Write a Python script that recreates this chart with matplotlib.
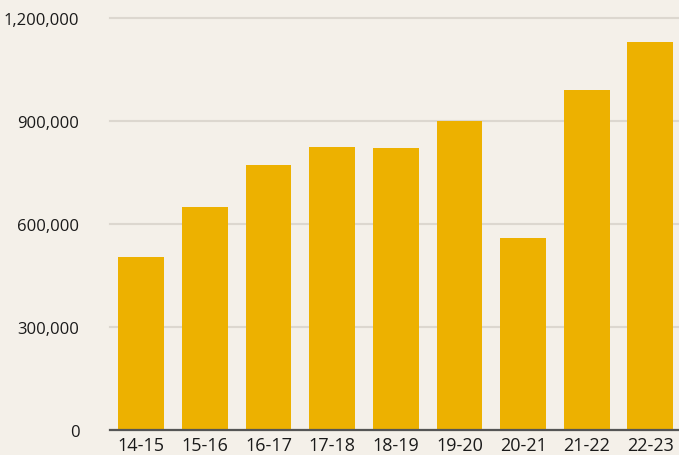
import matplotlib.pyplot as plt
from matplotlib.ticker import FuncFormatter

# ==== DATA ====
seasons = ['14-15', '15-16', '16-17', '17-18', '18-19', '19-20', '20-21', '21-22', '22-23']
values = [504000, 650000, 772000, 824000, 822000, 900000, 560000, 990000, 1130000]
y_ticks = [0, 300000, 600000, 900000, 1200000]

BG = '#f4f0e9'
BAR = '#edb100'
GRID = '#dcd7cf'

plt.rcParams['font.family'] = ['Open Sans', 'DejaVu Sans']

fig = plt.figure(figsize=(6.79, 4.56), dpi=100, facecolor=BG)
ax = fig.add_axes([110 / 679, 1 - 431 / 456, 1 - 110 / 679, (431 - 19) / 456])
ax.set_facecolor(BG)

x = range(len(seasons))
ax.bar(x, values, width=0.72, color=BAR, zorder=3)

ax.set_xlim(-0.49, 8.45)
ax.set_ylim(0, 1200000)
ax.set_yticks(y_ticks)
ax.yaxis.set_major_formatter(FuncFormatter(lambda v, p: f"{int(v):,}"))
ax.set_xticks(list(x))
ax.set_xticklabels(seasons)

ax.grid(axis='y', color=GRID, linewidth=1.5, zorder=0)
for g in ax.get_ygridlines():
    g.set_clip_on(False)

for s in ['top', 'right', 'left']:
    ax.spines[s].set_visible(False)
ax.spines['bottom'].set_color('#555555')
ax.spines['bottom'].set_linewidth(1.6)
ax.spines['bottom'].set_zorder(4)

ax.tick_params(axis='both', length=0, colors='#1a1a1a')
ax.tick_params(axis='y', pad=22, labelsize=12)
ax.tick_params(axis='x', pad=4, labelsize=13)

fig.savefig('out.png', dpi=100, facecolor=BG)
